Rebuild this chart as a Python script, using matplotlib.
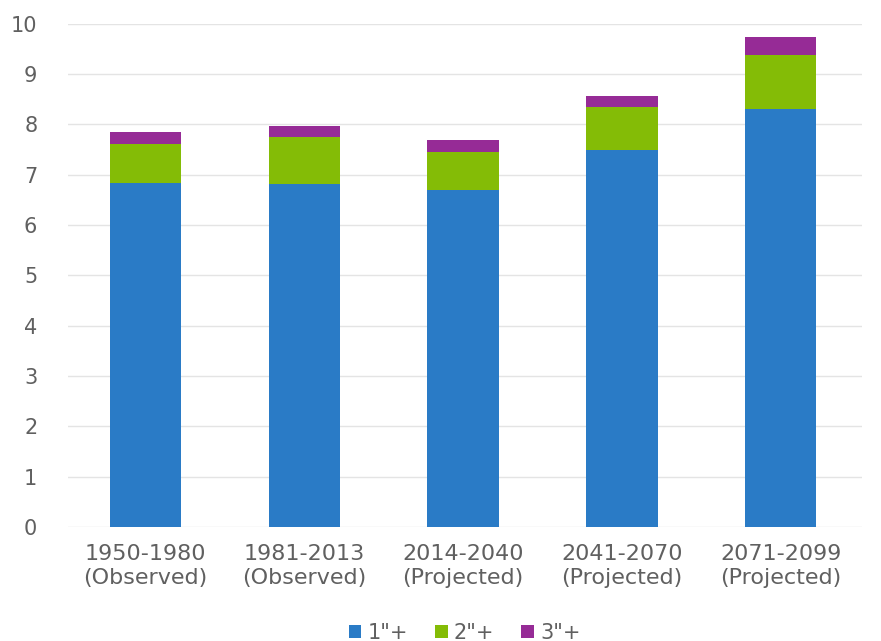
import matplotlib.pyplot as plt
import numpy as np

# periods and stacked segment values
periods = ['1950-1980\n(Observed)', '1981-2013\n(Observed)', '2014-2040\n(Projected)',
           '2041-2070\n(Projected)', '2071-2099\n(Projected)']
one_inch = [6.84, 6.82, 6.69, 7.50, 8.31]
two_inch = [0.77, 0.92, 0.76, 0.84, 1.07]
three_inch = [0.24, 0.22, 0.24, 0.23, 0.35]
series_names = ['1"+', '2"+', '3"+']
colors = ['#2a7bc6', '#84bc06', '#962b96']

plt.rcParams['font.family'] = ['DejaVu Sans']

fig = plt.figure(figsize=(8.81, 6.41), dpi=100)
ax = fig.add_axes([0.077, 0.178, 0.901, 0.785])

x = np.arange(len(periods))
w = 0.45
bottom = np.zeros(len(periods))
for vals, name, c in zip([one_inch, two_inch, three_inch], series_names, colors):
    ax.bar(x, vals, w, bottom=bottom, color=c, label=name, zorder=3)
    bottom += np.array(vals)

ax.set_xlim(-0.49, 4.51)
ax.set_ylim(0, 10)
ax.set_yticks(range(0, 11))
ax.set_xticks(x)
ax.set_xticklabels(periods, linespacing=1.25)
ax.grid(axis='y', color='#e4e4e4', linewidth=1, zorder=0)
for s in ax.spines.values():
    s.set_visible(False)
ax.tick_params(axis='both', length=0, labelsize=15, colors='#606060')
ax.tick_params(axis='x', labelsize=16, pad=12)
ax.tick_params(axis='y', pad=22)

ax.legend(loc='center', bbox_to_anchor=(0.5, -0.21), ncol=3, frameon=False,
          fontsize=15, labelcolor='#606060', handlelength=0.6, handleheight=0.6,
          handletextpad=0.3, columnspacing=1.3)

fig.savefig('out.png', dpi=100)
